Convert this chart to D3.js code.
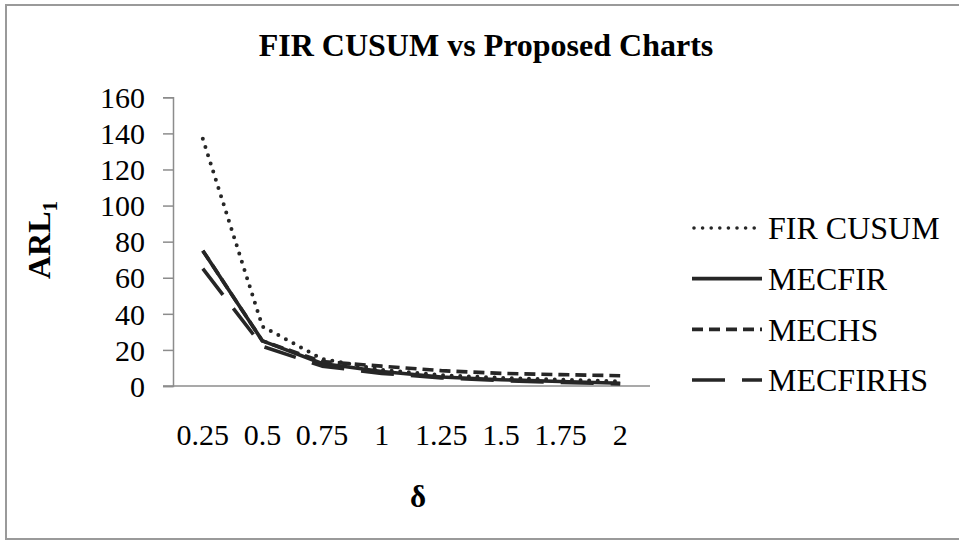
<!DOCTYPE html>
<html>
<head>
<meta charset="utf-8">
<script src="https://cdn.jsdelivr.net/npm/d3@7"></script>
<style>
  html, body { margin: 0; padding: 0; background: #fff; }
  svg { display: block; }
  text { font-family: "Liberation Serif", "Times New Roman", serif; fill: #000; }
</style>
</head>
<body>
<svg id="chart" width="959" height="540"></svg>
<script>
// Shift sizes (δ) on the category axis
const deltas = ["0.25", "0.5", "0.75", "1", "1.25", "1.5", "1.75", "2"];

// Out-of-control ARL for each chart
const firCusum  = [137, 33, 15, 9, 6, 4.5, 3.5, 2.5];
const mecFir    = [75, 25, 12.5, 8, 5, 3.5, 2.5, 1.5];
const mecHs     = [75, 25, 13.5, 11, 8.5, 7, 6.3, 5.7];
const mecFirHs  = [65, 22, 11, 7, 4.5, 3, 2, 1.2];

const yTicks = [0, 20, 40, 60, 80, 100, 120, 140, 160];

const seriesNames = ["FIR CUSUM", "MECFIR", "MECHS", "MECFIRHS"];
const seriesValues = [firCusum, mecFir, mecHs, mecFirHs];
const seriesDash = ["0 8.6", null, "11 6", "33 17"];

const svg = d3.select("#chart");
const W = 959, H = 540;
const plot = { left: 173, right: 650, top: 97.3, bottom: 386 };
const ink = "#262626";

// outer chart frame
svg.append("rect")
  .attr("x", 6).attr("y", 5)
  .attr("width", W + 4).attr("height", H - 6)
  .attr("fill", "#fff").attr("stroke", "#9a9a9a").attr("stroke-width", 2);

const x = d3.scaleBand().domain(deltas).range([plot.left, plot.right]);
const y = d3.scaleLinear().domain([0, 160]).range([plot.bottom, plot.top]);

// y axis
const yAxis = svg.append("g")
  .attr("transform", `translate(${plot.left},0)`)
  .call(d3.axisLeft(y).tickValues(yTicks).tickSize(10).tickPadding(18));
yAxis.select(".domain").attr("stroke", "#8c8c8c").attr("stroke-width", 1.5);
yAxis.selectAll(".tick line").attr("stroke", "#8c8c8c").attr("stroke-width", 1.5);
yAxis.selectAll(".tick text")
  .attr("font-size", 30).attr("font-family", "Liberation Serif").attr("fill", "#000")
  .attr("dy", "0.34em");

// x axis
const xAxis = svg.append("g")
  .attr("transform", `translate(0,${plot.bottom})`)
  .call(d3.axisBottom(x).tickSize(0).tickPadding(38));
xAxis.select(".domain").attr("stroke", "#8c8c8c").attr("stroke-width", 1.5)
  .attr("d", `M${plot.left - 10},0H${plot.right}`);
xAxis.selectAll(".tick text")
  .attr("font-size", 30).attr("font-family", "Liberation Serif").attr("fill", "#000");

// title
svg.append("text")
  .attr("x", 486).attr("y", 56)
  .attr("text-anchor", "middle")
  .attr("font-size", 32).attr("font-weight", "bold")
  .text("FIR CUSUM vs Proposed Charts");

// axis titles
svg.append("text")
  .attr("x", 418).attr("y", 507)
  .attr("text-anchor", "middle")
  .attr("font-size", 31).attr("font-weight", "bold")
  .text("δ");

const yTitle = svg.append("text")
  .attr("transform", "translate(50,240) rotate(-90)")
  .attr("text-anchor", "middle")
  .attr("font-size", 32).attr("font-weight", "bold");
yTitle.append("tspan").text("ARL");
yTitle.append("tspan").attr("font-size", 21).attr("dy", 7).text("1");

// series lines
const line = d3.line()
  .x((d, i) => x(deltas[i]) + x.bandwidth() / 2)
  .y(d => y(d));

seriesValues.forEach((vals, k) => {
  svg.append("path")
    .datum(vals)
    .attr("d", line)
    .attr("fill", "none")
    .attr("stroke", ink)
    .attr("stroke-width", k === 0 ? 4 : 3.6)
    .attr("stroke-linecap", k === 0 ? "round" : "butt")
    .attr("stroke-linejoin", "round")
    .attr("stroke-dasharray", seriesDash[k]);
});

// legend
const legendY = d3.scalePoint().domain(seriesNames).range([228, 380]);
const lg = svg.append("g");
seriesNames.forEach((name, k) => {
  const cy = legendY(name);
  lg.append("line")
    .attr("x1", k === 0 ? 694 : 692).attr("x2", 762)
    .attr("y1", cy).attr("y2", cy)
    .attr("stroke", ink)
    .attr("stroke-width", k === 0 ? 3.6 : 3.6)
    .attr("stroke-linecap", k === 0 ? "round" : "butt")
    .attr("stroke-dasharray", seriesDash[k]);
  lg.append("text")
    .attr("x", 768).attr("y", cy)
    .attr("dy", "0.35em")
    .attr("font-size", 32)
    .text(name);
});
</script>
</body>
</html>
